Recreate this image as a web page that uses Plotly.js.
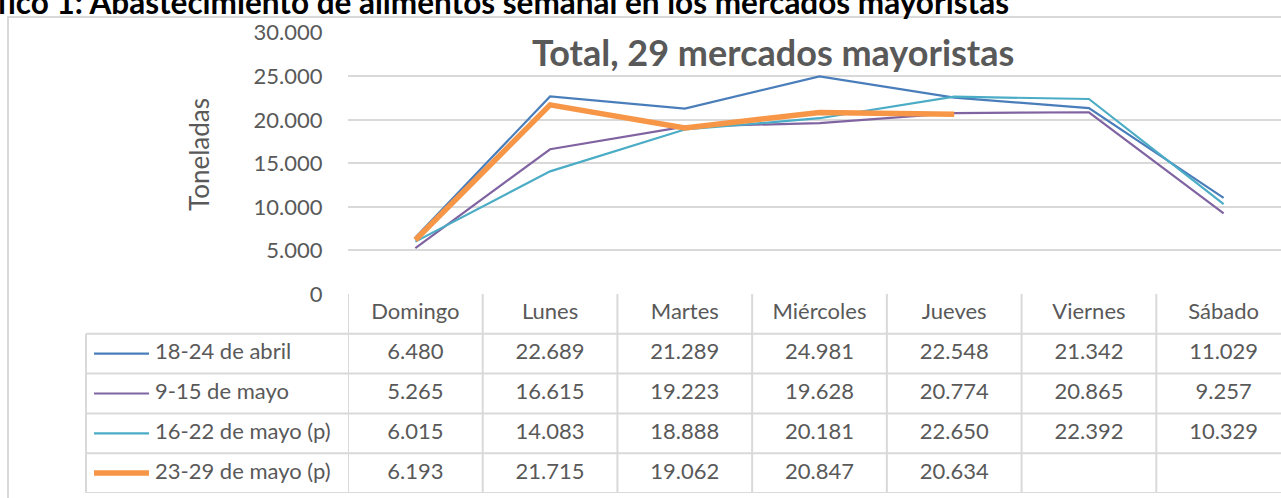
<!DOCTYPE html>
<html>
<head>
<meta charset="utf-8">
<script src="https://cdn.plot.ly/plotly-3.0.1.min.js"></script>
<style>
html, body { margin: 0; padding: 0; overflow: hidden; background: #ffffff; }
#chart { width: 1300px; height: 498px; }
</style>
</head>
<body>
<div id="chart"></div>
<script>
// ---- Data ----
const days = ["Domingo", "Lunes", "Martes", "Miércoles", "Jueves", "Viernes", "Sábado"];
const seriesNames = ["18-24 de abril", "9-15 de mayo", "16-22 de mayo (p)", "23-29 de mayo (p)"];
const abril18_24 = [6480, 22689, 21289, 24981, 22548, 21342, 11029];
const mayo9_15 = [5265, 16615, 19223, 19628, 20774, 20865, 9257];
const mayo16_22 = [6015, 14083, 18888, 20181, 22650, 22392, 10329];
const mayo23_29 = [6193, 21715, 19062, 20847, 20634, null, null];
const yTicks = [0, 5000, 10000, 15000, 20000, 25000, 30000];
const mainTitle = "Gráfico 1: Abastecimiento de alimentos semanal en los mercados mayoristas";
const chartTitle = "Total, 29 mercados mayoristas";
const yTitle = "Toneladas";

// ---- Styles ----
const seriesValues = [abril18_24, mayo9_15, mayo16_22, mayo23_29];
const colors = ["#4a7ebb", "#8064a2", "#4bacc6", "#f79646"];
const widths = [2.2, 2.2, 2.2, 5.5];
const FONT = "Lato, 'Open Sans', sans-serif";
const TXT = "#595959";
const GRID = "#d9d9d9";

const W = 1300, H = 498;
const px = v => v / W;          // x pixel -> paper
const py = v => (H - v) / H;    // y pixel (from top) -> paper

function fmt(v) {
  if (v === null || v === undefined) return "";
  return String(v).replace(/\B(?=(\d{3})+(?!\d))/g, ".");
}

const traces = [];
seriesValues.forEach((vals, i) => {
  traces.push({
    type: "scatter", mode: "lines", x: days, y: vals, name: seriesNames[i],
    xaxis: "x", yaxis: "y",
    line: { color: colors[i], width: widths[i] },
    connectgaps: false, hoverinfo: "skip", showlegend: false
  });
});

// table cells (header + values)
const cx = [], cy = [], ct = [];
days.forEach((d) => { cx.push(d); cy.push(0.5); ct.push(d); });
seriesValues.forEach((vals, i) => {
  vals.forEach((v, j) => { cx.push(days[j]); cy.push(i + 1.5); ct.push(fmt(v)); });
});
traces.push({
  type: "scatter", mode: "text", x: cx, y: cy, text: ct,
  xaxis: "x", yaxis: "y2",
  textposition: "middle center",
  textfont: { family: FONT, size: 22, color: TXT },
  hoverinfo: "skip", showlegend: false
});

const shapes = [];
// outer chart border
shapes.push({ type: "rect", xref: "paper", yref: "paper",
  x0: px(8), x1: 1.2, y0: -0.2, y1: py(17),
  line: { color: GRID, width: 2 }, fillcolor: "rgba(0,0,0,0)", layer: "below" });
// table horizontal lines (rows 1..5)
for (let r = 1; r <= 5; r++) {
  shapes.push({ type: "line", xref: "paper", yref: "y2",
    x0: px(86), x1: 1.2, y0: r, y1: r, line: { color: GRID, width: 2 } });
}
// table vertical lines at category boundaries
for (let k = 0; k <= days.length; k++) {
  shapes.push({ type: "line", xref: "x", yref: "y2",
    x0: k - 0.5, x1: k - 0.5, y0: 0, y1: 5, line: { color: GRID, width: 2 } });
}
// legend column left border
shapes.push({ type: "line", xref: "paper", yref: "y2",
  x0: px(86), x1: px(86), y0: 1, y1: 5, line: { color: GRID, width: 2 } });
// legend line samples
seriesNames.forEach((n, i) => {
  shapes.push({ type: "line", xref: "paper", yref: "y2",
    x0: px(94), x1: px(149), y0: i + 1.5, y1: i + 1.5,
    line: { color: colors[i], width: widths[i] } });
});

const annotations = [];
seriesNames.forEach((n, i) => {
  annotations.push({ xref: "paper", yref: "y2", x: px(153), y: i + 1.5, yshift: 3,
    xanchor: "left", yanchor: "middle", text: n, showarrow: false,
    font: { family: FONT, size: 22, color: TXT } });
});
annotations.push({ xref: "paper", yref: "paper", x: px(1011), y: py(1.5),
  xanchor: "right", yanchor: "middle", text: "<b>" + mainTitle + "</b>", showarrow: false,
  font: { family: FONT, size: 31.5, color: "#000000" } });
annotations.push({ xref: "paper", yref: "paper", x: px(773), y: py(52),
  xanchor: "center", yanchor: "middle", text: "<b>" + chartTitle + "</b>", showarrow: false,
  font: { family: FONT, size: 36, color: TXT } });
annotations.push({ xref: "paper", yref: "paper", x: px(199), y: py(155),
  xanchor: "center", yanchor: "middle", text: yTitle, textangle: -90, showarrow: false,
  font: { family: FONT, size: 26, color: TXT } });

const layout = {
  width: W, height: H,
  margin: { l: 0, r: 0, t: 0, b: 0, pad: 0 },
  paper_bgcolor: "#ffffff", plot_bgcolor: "rgba(0,0,0,0)",
  separators: ",.",
  showlegend: false,
  font: { family: FONT, color: TXT },
  xaxis: {
    type: "category", categoryarray: days, categoryorder: "array",
    range: [-0.5, 6.5], domain: [px(348), px(1291)],
    showticklabels: false, showgrid: false, zeroline: false, showline: false,
    ticks: "", fixedrange: true
  },
  yaxis: {
    range: [0, 30000], domain: [py(294), py(32.7)], anchor: "x",
    tickvals: yTicks, tickformat: ",d",
    showgrid: true, gridcolor: GRID, gridwidth: 2,
    zeroline: false, showline: false,
    ticks: "outside", ticklen: 20, tickcolor: "rgba(0,0,0,0)",
    tickfont: { family: FONT, size: 22, color: TXT }, fixedrange: true
  },
  yaxis2: {
    range: [5, 0], domain: [py(493), py(294)], anchor: "x",
    showticklabels: false, showgrid: false, zeroline: false, showline: false,
    ticks: "", fixedrange: true
  },
  shapes: shapes,
  annotations: annotations
};

Plotly.newPlot("chart", traces, layout, { staticPlot: true, displayModeBar: false });
</script>
</body>
</html>
